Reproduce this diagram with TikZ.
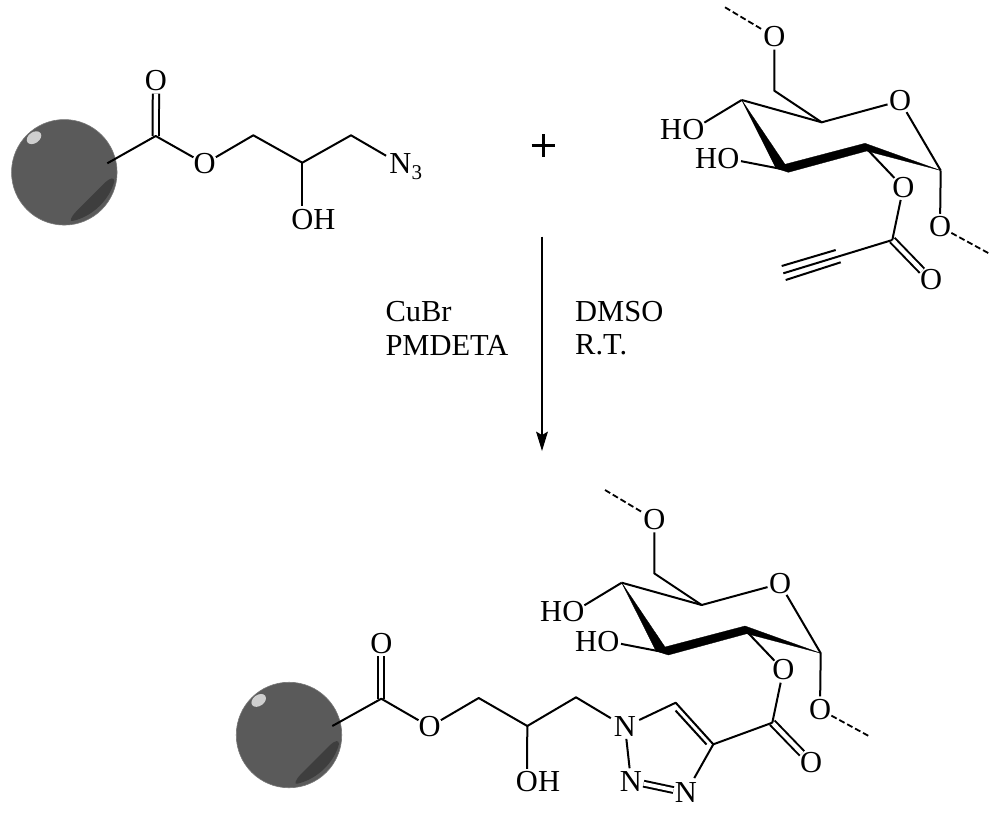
\documentclass[tikz,border=0pt]{standalone}
\usepackage{fontspec}
\setmainfont{Liberation Serif}
\usetikzlibrary{calc}
\definecolor{ballgrey}{HTML}{5A5A5A}
\definecolor{ballrim}{HTML}{777777}
\definecolor{balldark}{HTML}{3E3E3E}
\definecolor{ballshine}{HTML}{CFCFCF}
\tikzset{
  chem/.style={font=\fontsize{30.5}{36}\selectfont},
  atom/.style={chem,circle,inner sep=-1.6pt,text=black},
  latom/.style={chem,rectangle,inner xsep=3pt,inner ysep=2pt,text=black},
  tail/.style={chem,inner sep=0pt,text=black},
  sub3/.style={font=\fontsize{21}{24}\selectfont,inner sep=0pt,text=black},
  note/.style={chem,inner sep=0pt,anchor=west,text=black},
  bond/.style={line width=2pt,line cap=butt,line join=round,draw=black},
  dbond/.style={bond,double=white,double distance=4.3pt},
  dbondb/.style={bond,double=white,double distance=3.8pt},
  dbd/.style={line width=1.8pt,draw=black,dash pattern=on 6pt off 3pt},
  wedge/.style={fill=black,draw=black,line width=.3pt,line join=round},
  ball/.style={circle,minimum size=105.5pt,inner sep=0pt,fill=ballgrey,draw=ballrim,line width=.6pt},
  rxn/.style={line width=2pt,draw=black},
  plusbar/.style={line width=3pt,draw=black},
}
\newcommand{\beadat}[3]{%
  \node[ball] (#1) at (#2,#3) {};
  \begin{scope}[shift={(#2,#3)}]
    \fill[balldark] (9,48.5) .. controls (4,50.5) and (7,44) .. (12,39)
      -- (41,10) .. controls (46,5.5) and (50,4.5) .. (50,9)
      .. controls (45,28) and (28,44) .. (9,48.5) -- cycle;
    \fill[ballshine,rotate around={35:(-30.3,-34.6)}] (-30.3,-34.6) ellipse (8pt and 5.5pt);
  \end{scope}}
\newcommand{\sugarat}[3]{%
  \begin{scope}[shift={(#2,#3)}]
    \node[atom] (#1oa) at (774.3,36.7) {O};
    \coordinate (#1da) at (725,7.3);
    \coordinate (#1c6) at (774.3,90.7);
    \coordinate (#1c5) at (821.7,122.3);
    \node[atom] (#1or) at (900,101) {O};
    \coordinate (#1c4) at (741.7,100);
    \coordinate (#1c3) at (786.7,170);
    \coordinate (#1c2) at (865,147);
    \coordinate (#1c1) at (940.7,170.5);
    \node[atom] (#1ob) at (693.3,129.3) {O};
    \node[tail,anchor=east,xshift=2pt] (#1hb) at (#1ob.west) {H};
    \node[atom] (#1oc) at (728.3,158.7) {O};
    \node[tail,anchor=east,xshift=2pt] (#1hc) at (#1oc.west) {H};
    \node[atom] (#1oe) at (903.3,187.3) {O};
    \node[atom] (#1od) at (940,226.7) {O};
    \coordinate (#1dd) at (990,254);
    \coordinate (#1ce) at (892.3,240);
    \node[atom] (#1oc2) at (931,280) {O};
    \fill[wedge] (#1c4) -- (785,164.3) -- (865,143.3) -- (#1c1) -- (866.7,151) -- (788.3,172.3) -- (776,168.3) -- cycle;
    \draw[dbd] (#1da) -- (#1oa);
    \draw[bond] (#1oa) -- (#1c6) -- (#1c5);
    \draw[bond] (#1or) -- (#1c5) -- (#1c4);
    \draw[bond] (#1or) -- (#1c1);
    \draw[bond] (#1c4) -- (#1ob);
    \draw[bond] (#1c3) -- (#1oc);
    \draw[bond] (#1c2) -- (#1oe);
    \draw[bond] (#1c1) -- (#1od);
    \draw[dbd] (#1od) -- (#1dd);
    \draw[dbond] (#1ce) -- (#1oc2);
    \draw[bond] (#1oe) -- (#1ce);
  \end{scope}}
\begin{document}
\begin{tikzpicture}[x=1pt,y=-1pt]
\useasboundingbox (0,0) rectangle (1000,814);
\fill[white] (0,0) rectangle (1000,814);
% top left
\beadat{ba}{64.3}{172.3}
\coordinate (a0) at (107.3,163.3);
\coordinate (a1) at (155.7,136);
\node[atom] (ao1) at (156,80.7) {O};
\node[atom] (ao2) at (204.7,163.7) {O};
\coordinate (a2) at (253.3,135.3);
\coordinate (a3) at (302.3,162.7);
\coordinate (a4) at (351,135.3);
\node[latom] (an) at (400.3,164) {N};
\node[sub3,anchor=west] (an3) at (411.5,172.5) {3};
\node[atom] (ao3) at (302.3,219.3) {O};
\node[tail,anchor=west,xshift=-2pt] (ah3) at (ao3.east) {H};
\draw[dbond] (a1) -- (ao1);
\draw[bond] (a0) -- (a1) -- (ao2) -- (a2) -- (a3) -- (a4) -- (an);
\draw[bond] (a3) -- (ao3);
% plus
\coordinate (pa) at (531.7,145.7); \coordinate (pb) at (555,145.7);
\coordinate (pc) at (543.3,134); \coordinate (pd) at (543.3,157.4);
\draw[plusbar] (pa) -- (pb) (pc) -- (pd);
% top sugar
\sugarat{s}{0}{0}
\draw[bond] (sce) -- (783.3,273.3);
\coordinate (ta) at (781.7,266); \coordinate (tb) at (835.7,250);
\coordinate (tc) at (785.7,280); \coordinate (td) at (840.7,262.3);
\draw[bond] (ta) -- (tb) (tc) -- (td);
% arrow
\coordinate (ra) at (542,236.7);
\coordinate (rb) at (542,451);
\draw[rxn] (ra) -- (542,436);
\fill[black] (rb) -- (536,431.5) -- (542,435) -- (548,431.5) -- cycle;
\node[note] (t1) at (385.3,311.5) {CuBr};
\node[note] (t2) at (385.3,345) {PMDETA};
\node[note] (t3) at (575,312) {DMSO};
\node[note] (t4) at (575,345) {R.T.};
% bottom
\beadat{bb}{289}{735}
\coordinate (b0) at (332.3,726);
\coordinate (b1) at (381.3,698.7);
\node[atom] (bo1) at (381.3,643.3) {O};
\node[atom] (bo2) at (429.7,726.7) {O};
\coordinate (b2) at (478.7,698);
\coordinate (b3) at (527.3,726);
\coordinate (b4) at (576,697.3);
\node[atom] (bo3) at (527,781.7) {O};
\node[tail,anchor=west,xshift=-2pt] (bh3) at (bo3.east) {H};
\node[latom] (n1) at (625,726.7) {N};
\node[atom] (n2) at (631,781) {N};
\node[atom] (n3) at (686,792.7) {N};
\coordinate (c5) at (675.7,702.7);
\coordinate (c4) at (713.3,744.3);
\coordinate (c5i) at (675.5,710.5);
\coordinate (c4i) at (706.5,744.5);
\sugarat{u}{-120}{482.7}
\draw[dbond] (b1) -- (bo1);
\draw[bond] (b0) -- (b1) -- (bo2) -- (b2) -- (b3) -- (b4) -- (n1);
\draw[bond] (b3) -- (bo3);
\draw[bond] (n1) -- (c5) -- (c4) -- (uce);
\draw[bond] (c5i) -- (c4i);
\draw[bond] (n1) -- (n2);
\draw[dbondb] (n2) -- (n3);
\draw[bond,shorten >=4pt] (c4) -- (n3);
\end{tikzpicture}
\end{document}
